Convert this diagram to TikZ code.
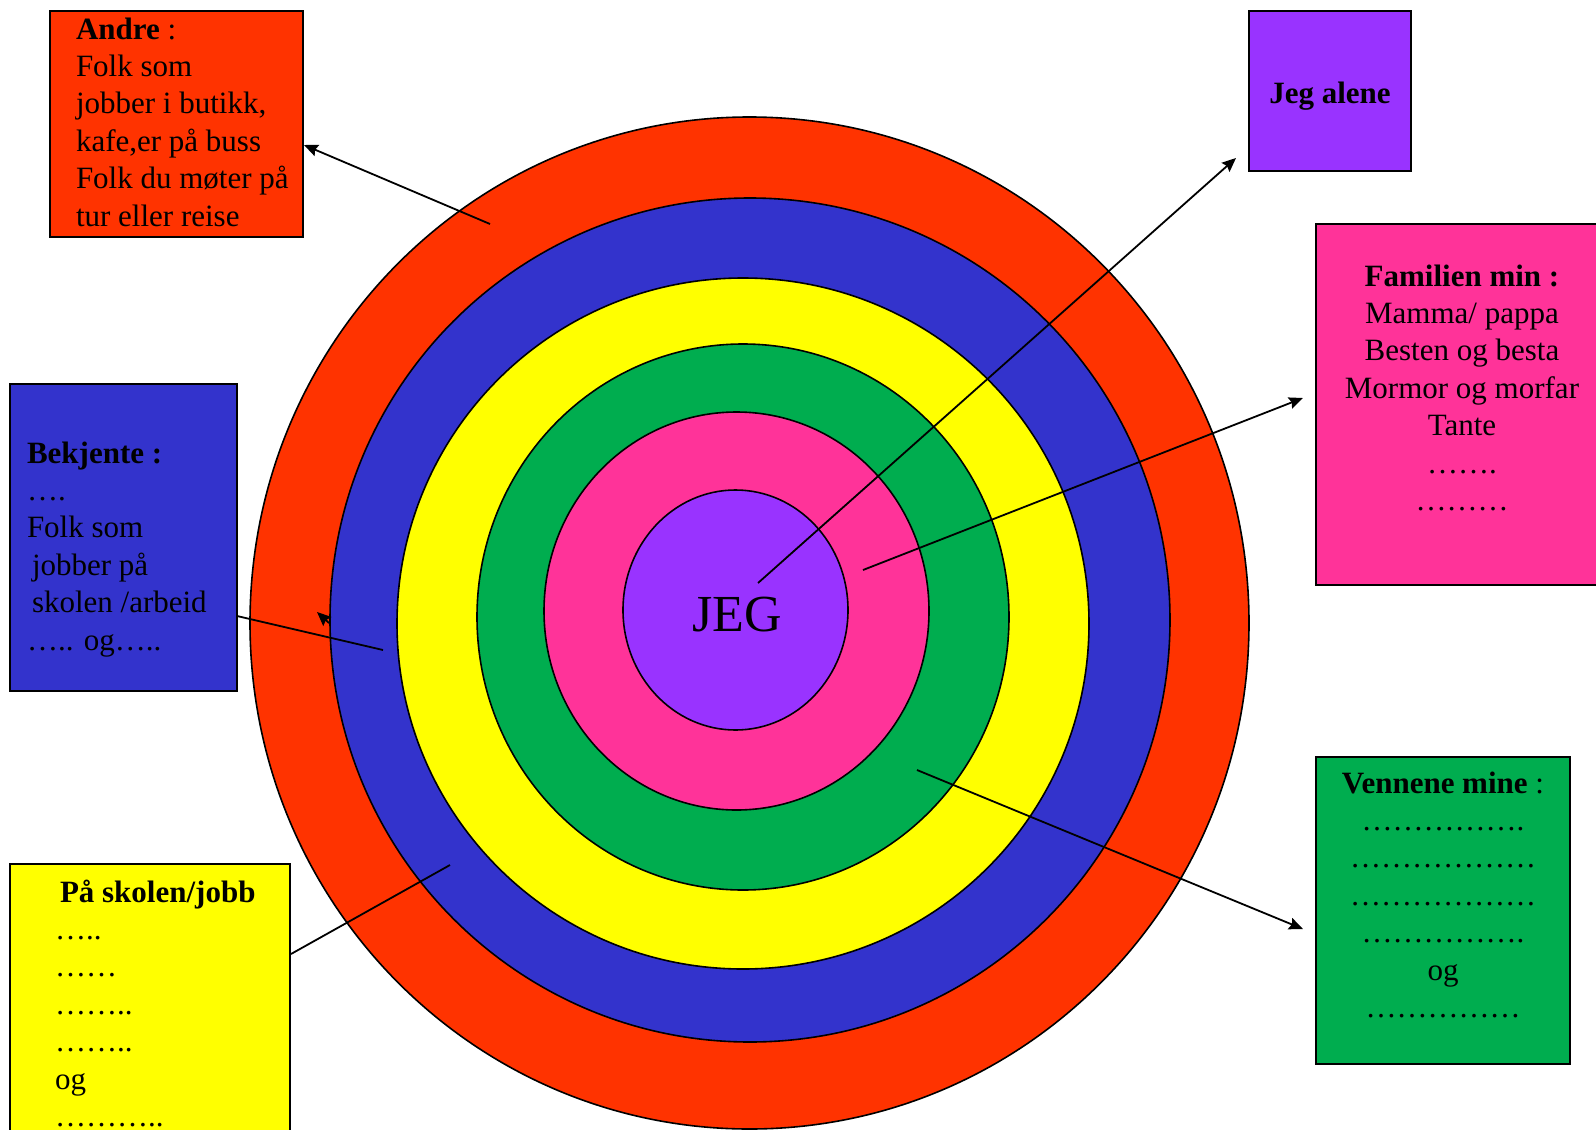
\documentclass[tikz,border=0pt]{standalone}
\usepackage{fontspec}
\setmainfont{Liberation Serif}
\usetikzlibrary{arrows.meta}
\definecolor{cRed}{HTML}{FF3300}
\definecolor{cBlue}{HTML}{3333CC}
\definecolor{cYellow}{HTML}{FFFF00}
\definecolor{cGreen}{HTML}{00AD4F}
\definecolor{cPink}{HTML}{FF3399}
\definecolor{cPurple}{HTML}{9933FF}
\newcommand\bodyfont{\fontsize{15.5pt}{18.7pt}\selectfont}
\newcommand\fl{\rule{0pt}{12pt}}
\begin{document}
\begin{tikzpicture}[x=0.5pt,y=-0.5pt,
  ring/.style={draw=black,line width=0.8pt},
  box/.style={draw=black,line width=1pt,rectangle,inner sep=0pt,outer sep=0pt,anchor=north west},
  txt/.style={font=\bodyfont,inner sep=0pt,outer sep=0pt},
  conn/.style={draw=black,line width=0.9pt},
  tipped/.style={-{Stealth[length=7pt,width=6pt,inset=1pt]}}
]
\useasboundingbox (0,0) rectangle (1596,1130);
\clip (0,0) rectangle (1596,1130);
\fill[white] (0,0) rectangle (1596,1130);
% rings
\filldraw[ring,fill=cRed]    (749.5,623) ellipse [x radius=499.5, y radius=506];
\filldraw[ring,fill=cBlue]   (750,620)   ellipse [x radius=420, y radius=422];
\filldraw[ring,fill=cYellow] (743,623.5) ellipse [x radius=346, y radius=345.5];
\filldraw[ring,fill=cGreen]  (743,617)   ellipse [x radius=266, y radius=273];
\filldraw[ring,fill=cPink]   (736.5,611) ellipse [x radius=192.5, y radius=199];
\filldraw[ring,fill=cPurple] (735.5,610) ellipse [x radius=112.5, y radius=120];
\node[font=\fontsize{26pt}{30pt}\selectfont,inner sep=0pt,anchor=base] (jeg) at (737,631) {JEG};
% boxes
\node[box,fill=cRed,minimum width=126.5pt,minimum height=113pt] (andre) at (50,11) {};
\node[txt,align=left,anchor=north west] (andreT) at (76,15)
  {\fl\textbf{Andre} :\\Folk som\\jobber i butikk,\\kafe,er på buss\\Folk du møter på\\tur eller reise};
\node[box,fill=cBlue,minimum width=113.5pt,minimum height=153.5pt] (bekjente) at (10,384) {};
\node[txt,align=left,anchor=north west] (bekjenteT) at (27,439)
  {\fl\textbf{Bekjente :}\\….\\Folk som\\\hspace{2.5pt}jobber på\\\hspace{2.5pt}skolen /arbeid\\….. og…..};
\node[box,fill=cYellow,minimum width=140pt,minimum height=140pt] (skolen) at (10,864) {};
\node[txt,align=left,anchor=north west] (skolenT) at (55,878)
  {\fl\hspace{2.5pt}\textbf{På skolen/jobb}\\…..\\……\\……..\\……..\\og\\………..};
\node[box,fill=cPurple,minimum width=81pt,minimum height=80pt] (alene) at (1249,11) {};
\node[txt,anchor=base] (aleneT) at (1330,103) {\textbf{Jeg alene}};
\node[box,fill=cPink,minimum width=147pt,minimum height=180.5pt] (familien) at (1316,224) {};
\node[txt,align=center,anchor=north] (familienT) at (1462,262)
  {\fl\textbf{Familien min :}\\Mamma/ pappa\\Besten og besta\\Mormor og morfar\\Tante\\…….\\………};
\node[box,fill=cGreen,minimum width=127pt,minimum height=153.5pt] (venner) at (1316,757) {};
\node[txt,align=center,anchor=north] (vennerT) at (1443,769)
  {\fl\textbf{Vennene mine} :\\…………….\\………………\\………………\\…………….\\og\\……………};
% connector end points
\coordinate (a1) at (490,224);   \coordinate (a1t) at (304,145);
\coordinate (a2) at (758,583);   \coordinate (a2t) at (1236,158);
\coordinate (a3) at (863,570);   \coordinate (a3t) at (1303,398);
\coordinate (b0) at (237,616);   \coordinate (b1) at (383,650);
\coordinate (h0) at (329,623);   \coordinate (h1) at (317,612);
\coordinate (s0) at (291,954);   \coordinate (s1) at (450,865);
\coordinate (v0) at (917,770);   \coordinate (v1) at (1303,929);
% connectors
\draw[conn,tipped] (a1) -- (a1t);
\draw[conn,tipped] (a2) -- (a2t);
\draw[conn,tipped] (a3) -- (a3t);
\draw[conn] (b0) -- (b1);
\draw[conn,tipped] (h0) -- (h1);
\draw[conn] (s0) -- (s1);
\draw[conn,tipped] (v0) -- (v1);
\end{tikzpicture}
\end{document}
